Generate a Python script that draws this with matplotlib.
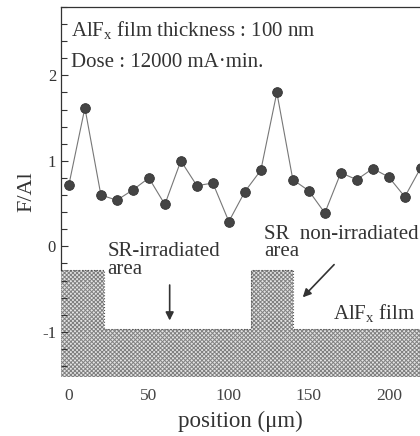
import matplotlib.pyplot as plt
import numpy as np

# F/Al ratio measured along the line scan
position = [0, 10, 20, 30, 40, 50, 60, 70, 80, 90, 100, 110,
            120, 130, 140, 150, 160, 170, 180, 190, 200, 210, 220]
f_al = [0.72, 1.62, 0.60, 0.54, 0.66, 0.80, 0.49, 1.00, 0.71, 0.74, 0.29, 0.64,
        0.89, 1.80, 0.78, 0.65, 0.39, 0.86, 0.78, 0.91, 0.81, 0.58, 0.92]

# film cross-section drawn under the data (x, top of film)
film_x = [-5, 22, 22, 114, 114, 140, 140, 220]
film_top = [-0.28, -0.28, -0.97, -0.97, -0.28, -0.28, -0.97, -0.97]
film_bottom = -1.53

plt.rcParams['font.family'] = ['Liberation Serif', 'DejaVu Serif']
plt.rcParams['hatch.linewidth'] = 0.7
plt.rcParams['axes.unicode_minus'] = False
plt.rcParams['mathtext.fontset'] = 'custom'
plt.rcParams['mathtext.rm'] = 'Liberation Serif'
plt.rcParams['mathtext.it'] = 'Liberation Serif'

fig = plt.figure(figsize=(4.2, 4.36), dpi=100)
ax = fig.add_axes([0.145, 0.135, 0.855, 0.849])

ax.fill_between(film_x, film_top, film_bottom, facecolor='#e4e4e4',
                edgecolor='#808080', hatch='xxxxxxxx', linewidth=0)
ax.plot(film_x, film_top, color='#555555', lw=0.8, ls=':')

ax.plot(position, f_al, color='#777777', lw=0.8, marker='o', markersize=7,
        markerfacecolor='#444444', markeredgecolor='#333333', markeredgewidth=0.6)

ax.set_xlim(-5, 219.5)
ax.set_ylim(-1.53, 2.8)
ax.set_xticks([0, 50, 100, 150, 200])
ax.set_yticks([-1, 0, 1, 2])
ax.set_yticks(np.arange(-0.5, 2.8, 0.5), minor=True)
ax.tick_params(axis='y', which='both', direction='in', length=5, width=0.8,
               labelsize=12, colors='#333333')
ax.tick_params(axis='y', which='minor', length=4)
ax.tick_params(axis='x', length=0, pad=8, labelsize=12.5, colors='#444444')
ax.minorticks_on()
ax.tick_params(axis='x', which='minor', length=0)
ax.spines['right'].set_visible(False)
ax.spines['bottom'].set_visible(False)
ax.spines['left'].set_bounds(-0.28, 2.8)
for s in ('left', 'top'):
    ax.spines[s].set_color('#333333')
    ax.spines[s].set_linewidth(0.9)

ax.set_xlabel('position (\u03bcm)', fontsize=16.5, color='#333333', labelpad=5)
ax.set_ylabel('F/Al', fontsize=16, color='#333333', labelpad=4)

ax.text(1.5, 2.53, r'AlF$_{\rm x}$ film thickness : 100 nm', fontsize=15,
        color='#333333', va='center')
ax.text(1.5, 2.15, 'Dose : 12000 mA\u00b7min.', fontsize=15,
        color='#333333', va='center')

ax.text(24, -0.165, 'SR-irradiated\narea', fontsize=15, color='#333333',
        va='center', linespacing=0.9)
ax.text(122, 0.04, 'SR  non-irradiated\narea', fontsize=15, color='#333333',
        va='center', linespacing=0.9)
ax.text(165, -0.78, r'AlF$_{\rm x}$ film', fontsize=15, color='#333333', va='center')

ax.annotate('', xy=(63, -0.9), xytext=(63, -0.42),
            arrowprops=dict(arrowstyle='-|>', color='#333333', lw=1.2,
                            mutation_scale=12))
ax.annotate('', xy=(145, -0.62), xytext=(167, -0.19),
            arrowprops=dict(arrowstyle='-|>', color='#333333', lw=1.2,
                            mutation_scale=12))

fig.savefig('out.png', dpi=100)
